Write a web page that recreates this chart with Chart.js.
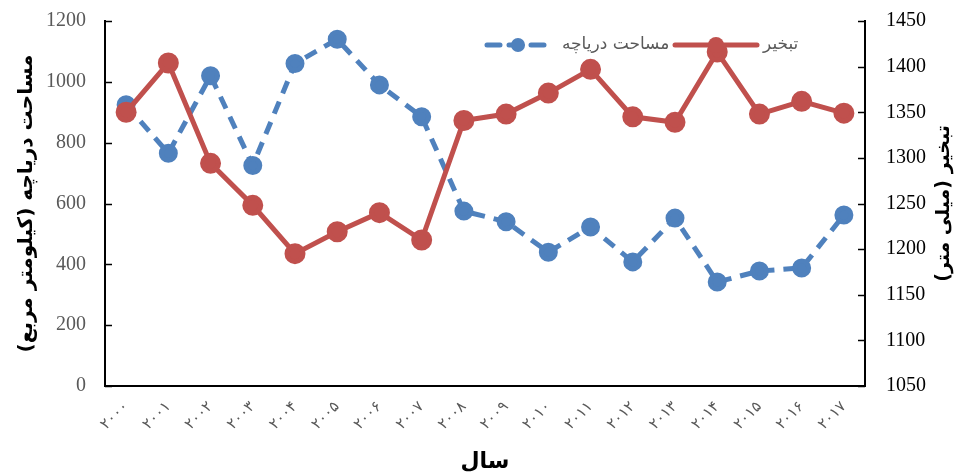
<!DOCTYPE html>
<html lang="fa">
<head>
<meta charset="utf-8">
<script src="https://cdn.jsdelivr.net/npm/chart.js@4"></script>
<style>
  html, body { margin: 0; padding: 0; background: #fff; }
  #wrap { width: 963px; height: 475px; position: relative; }
</style>
</head>
<body>
<div id="wrap"><canvas id="c" width="963" height="475"></canvas></div>
<script>
// Years (Persian digits) on the category axis
const years = ['۲۰۰۰','۲۰۰۱','۲۰۰۲','۲۰۰۳','۲۰۰۴','۲۰۰۵','۲۰۰۶','۲۰۰۷','۲۰۰۸','۲۰۰۹',
               '۲۰۱۰','۲۰۱۱','۲۰۱۲','۲۰۱۳','۲۰۱۴','۲۰۱۵','۲۰۱۶','۲۰۱۷'];
// Lake surface area (km²) — left axis
const lakeArea = [925, 765, 1020, 725, 1060, 1140, 990, 885, 575, 540, 440, 523, 408, 552, 342, 378, 388, 562];
// Evaporation (mm) — right axis
const evaporation = [1350, 1404, 1294, 1248, 1195, 1219, 1240, 1210, 1341, 1348, 1371, 1397, 1345, 1339, 1416, 1348, 1362, 1349];
// Axis tick values
const areaTicks = [0, 200, 400, 600, 800, 1000, 1200];
const evapTicks = [1050, 1100, 1150, 1200, 1250, 1300, 1350, 1400, 1450];
// Text
const seriesNames = ['مساحت دریاچه', 'تبخیر'];
const axisTitles = { x: 'سال', y: 'مساحت دریاچه (کیلومتر مربع)', y1: 'تبخیر (میلی متر)' };

const BLUE = '#4F81BD';
const RED = '#C0504D';
const numFont = "'Liberation Serif', 'DejaVu Serif', serif";
const faFont = "'DejaVu Sans', 'Noto Sans', sans-serif";

// Short inward tick marks on both value axes
const innerTicks = {
  id: 'innerTicks',
  afterDraw(chart) {
    const ctx = chart.ctx;
    const area = chart.chartArea;
    ctx.save();
    ctx.strokeStyle = '#000';
    ctx.lineWidth = 1.5;
    chart.scales.y.ticks.forEach(t => {
      const py = Math.round(chart.scales.y.getPixelForValue(t.value)) + 0.5;
      ctx.beginPath(); ctx.moveTo(area.left, py); ctx.lineTo(area.left + 7, py); ctx.stroke();
    });
    chart.scales.y1.ticks.forEach(t => {
      const py = Math.round(chart.scales.y1.getPixelForValue(t.value)) + 0.5;
      ctx.beginPath(); ctx.moveTo(area.right, py); ctx.lineTo(area.right - 7, py); ctx.stroke();
    });
    ctx.restore();
  }
};

// Right axis title, read bottom-to-top like the left one
const rightTitle = {
  id: 'rightTitle',
  afterDraw(chart) {
    const ctx = chart.ctx;
    const area = chart.chartArea;
    ctx.save();
    ctx.translate(944, (area.top + area.bottom) / 2);
    ctx.rotate(-Math.PI / 2);
    ctx.fillStyle = '#000';
    ctx.font = 'bold 19px ' + faFont;
    ctx.textAlign = 'center';
    ctx.textBaseline = 'middle';
    ctx.fillText(axisTitles.y1, 0, 0);
    ctx.restore();
  }
};

// Legend drawn inside the plot area, near the top
const innerLegend = {
  id: 'innerLegend',
  afterDraw(chart) {
    const ctx = chart.ctx;
    const y = 45;
    const items = [
      { ds: chart.data.datasets[0], x0: 487, x1: 549, text: seriesNames[0], tx: 562 },
      { ds: chart.data.datasets[1], x0: 675, x1: 757, text: seriesNames[1], tx: 763 }
    ];
    ctx.save();
    items.forEach(it => {
      ctx.strokeStyle = it.ds.borderColor;
      ctx.lineWidth = it.ds.borderWidth;
      ctx.lineCap = 'round';
      ctx.setLineDash(it.ds.borderDash || []);
      ctx.beginPath(); ctx.moveTo(it.x0, y); ctx.lineTo(it.x1, y); ctx.stroke();
      ctx.setLineDash([]);
      ctx.fillStyle = it.ds.pointBackgroundColor;
      ctx.beginPath(); ctx.arc((it.x0 + it.x1) / 2, y, it.ds.pointRadius, 0, Math.PI * 2); ctx.fill();
      ctx.fillStyle = '#595959';
      ctx.font = '17px ' + faFont;
      ctx.textAlign = 'left';
      ctx.textBaseline = 'middle';
      ctx.fillText(it.text, it.tx, y);
    });
    ctx.restore();
  }
};

// Value axes: fixed width, no extra vertical padding for the end labels
function fitValueAxis(width) {
  return s => { s.width = width; s.paddingTop = 0; s.paddingBottom = 0; };
}

new Chart(document.getElementById('c'), {
  type: 'line',
  data: {
    labels: years,
    datasets: [
      {
        label: seriesNames[0],
        data: lakeArea,
        yAxisID: 'y',
        borderColor: BLUE,
        backgroundColor: BLUE,
        pointBackgroundColor: BLUE,
        pointBorderColor: BLUE,
        borderWidth: 5,
        borderDash: [13, 9],
        pointRadius: 7,
        pointHoverRadius: 7,
        tension: 0,
        order: 2
      },
      {
        label: seriesNames[1],
        data: evaporation,
        yAxisID: 'y1',
        borderColor: RED,
        backgroundColor: RED,
        pointBackgroundColor: RED,
        pointBorderColor: RED,
        borderWidth: 5,
        pointRadius: 8,
        pointHoverRadius: 8,
        tension: 0,
        order: 1
      }
    ]
  },
  options: {
    responsive: false,
    animation: false,
    events: [],
    layout: { padding: { top: 21, left: 0, right: 0, bottom: 0 } },
    plugins: { legend: { display: false }, tooltip: { enabled: false } },
    scales: {
      x: {
        offset: true,
        grid: { display: false, drawTicks: false },
        border: { display: true, color: '#000', width: 2 },
        ticks: {
          color: '#595959',
          font: { family: faFont, size: 15 },
          minRotation: 45, maxRotation: 45,
          autoSkip: false,
          padding: 12
        },
        title: {
          display: true, text: axisTitles.x, color: '#000',
          font: { family: faFont, size: 22, weight: 'bold' },
          padding: { top: 0, bottom: 0 }
        },
        afterFit(s) { s.height = 89; }
      },
      y: {
        position: 'left',
        min: areaTicks[0], max: areaTicks[areaTicks.length - 1],
        afterBuildTicks(s) { s.ticks = areaTicks.map(v => ({ value: v })); },
        grid: { display: false, drawTicks: false },
        border: { display: true, color: '#000', width: 2 },
        ticks: {
          color: '#595959', font: { family: numFont, size: 20 }, padding: 19,
          callback: v => String(v)
        },
        title: {
          display: true, text: axisTitles.y, color: '#000',
          font: { family: faFont, size: 20, weight: 'bold' },
          padding: { top: 15, bottom: 0 }
        },
        afterFit: fitValueAxis(105)
      },
      y1: {
        position: 'right',
        min: evapTicks[0], max: evapTicks[evapTicks.length - 1],
        afterBuildTicks(s) { s.ticks = evapTicks.map(v => ({ value: v })); },
        grid: { display: false, drawTicks: false },
        border: { display: true, color: '#000', width: 2, dash: [5, 3] },
        ticks: {
          color: '#000', font: { family: numFont, size: 20 }, padding: 21,
          callback: v => String(v)
        },
        title: { display: false },
        afterFit: fitValueAxis(98)
      }
    }
  },
  plugins: [innerTicks, rightTitle, innerLegend]
});
</script>
</body>
</html>
